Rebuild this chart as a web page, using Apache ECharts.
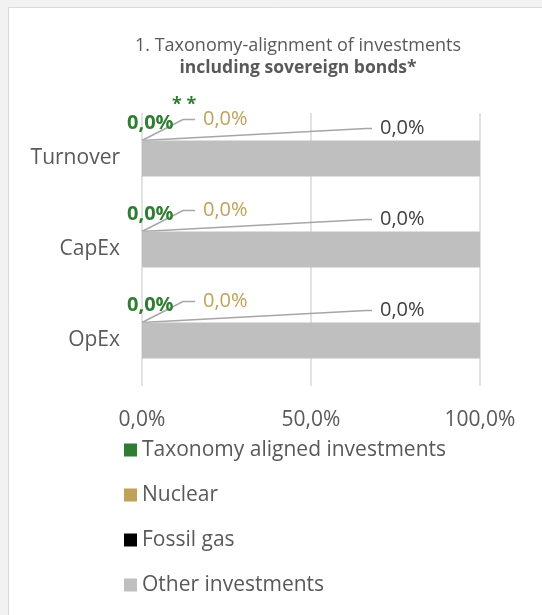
<!DOCTYPE html>
<html>
<head>
<meta charset="utf-8">
<script src="https://cdn.jsdelivr.net/npm/echarts@6/dist/echarts.min.js"></script>
<style>
html, body { margin: 0; padding: 0; background: #f2f2f2; }
#main { width: 542px; height: 615px; }
</style>
</head>
<body>
<div id="main"></div>
<script>
// categories (top to bottom)
var cats = ['Turnover', 'CapEx', 'OpEx'];
// shares in %
var aligned = [0, 0, 0];
var nuclear = [0, 0, 0];
var fossil = [0, 0, 0];
var other = [100, 100, 100];
var xTicks = [0, 50, 100];
var seriesNames = ['Taxonomy aligned investments', 'Nuclear', 'Fossil gas', 'Other investments'];

var FONT = '"Open Sans", sans-serif';
var TXT = '#595959';

function pct(v) {
	return v.toFixed(1).replace('.', ',') + '%';
}

var myChart = echarts.init(document.getElementById('main'));

var option = {
	backgroundColor : '#f2f2f2',
	animation : false,
	textStyle : { fontFamily : FONT },
	graphic : [
		{
			type : 'rect',
			z : -10,
			shape : { x : 8.5, y : 7.5, width : 540, height : 620 },
			style : { fill : '#ffffff', stroke : '#d9d9d9', lineWidth : 1 }
		}
	],
	title : {
		text : '1. Taxonomy-alignment of investments',
		subtext : 'including sovereign bonds*',
		left : 293,
		textAlign : 'center',
		top : 32,
		itemGap : 4,
		textStyle : { fontFamily : FONT, fontSize : 18, fontWeight : 'normal', color : TXT },
		subtextStyle : { fontFamily : FONT, fontSize : 17.5, fontWeight : 'bold', color : TXT }
	},
	legend : {
		orient : 'vertical',
		left : 124,
		top : 438,
		padding : 0,
		itemWidth : 13,
		itemHeight : 13,
		itemGap : 21,
		icon : 'rect',
		selectedMode : false,
		textStyle : { fontFamily : FONT, fontSize : 21, color : TXT, lineHeight : 24 },
		data : seriesNames
	},
	grid : {
		left : 142,
		right : 62,
		top : 113,
		height : 273
	},
	xAxis : {
		type : 'value',
		min : xTicks[0],
		max : xTicks[xTicks.length - 1],
		interval : xTicks[1] - xTicks[0],
		axisLine : { show : false },
		axisTick : { show : false },
		splitLine : { lineStyle : { color : '#d9d9d9', width : 1.5 } },
		axisLabel : {
			fontFamily : FONT,
			fontSize : 21,
			color : TXT,
			margin : 24,
			formatter : function (v) { return pct(v); }
		}
	},
	yAxis : {
		type : 'category',
		inverse : true,
		data : cats,
		axisLine : { show : false },
		axisTick : { show : false },
		axisLabel : { fontFamily : FONT, fontSize : 21, color : TXT, margin : 22, padding : [8, 0, 0, 0] }
	},
	series : [
		{
			name : seriesNames[0],
			type : 'bar',
			stack : 'total',
			barWidth : 36,
			itemStyle : { color : '#2e7d32' },
			label : {
				show : true,
				fontFamily : FONT,
				fontSize : 20,
				fontWeight : 'bold',
				color : '#2e7d32',
				formatter : function (p) {
					if (p.dataIndex === 0) {
						return '{s|* *}\n{v|' + pct(p.value) + '}';
					}
					return '{v|' + pct(p.value) + '}';
				},
				rich : {
					s : { fontFamily : FONT, fontSize : 18, color : '#2e7d32', padding : [0, 0, 0, 45] },
					v : { fontFamily : FONT, fontSize : 20, fontWeight : 'bold', color : '#2e7d32' }
				}
			},
			labelLayout : function (p) {
				return { x : p.rect.x - 15, y : p.rect.y - 7, align : 'left', verticalAlign : 'bottom' };
			},
			data : aligned
		},
		{
			name : seriesNames[1],
			type : 'bar',
			stack : 'total',
			itemStyle : { color : '#bfa25a' },
			label : {
				show : true,
				fontFamily : FONT,
				fontSize : 20,
				color : '#bfa25a',
				formatter : function (p) { return '{g| }{v|' + pct(p.value) + '}'; },
				rich : {
					g : { width : 8 },
					v : { fontFamily : FONT, fontSize : 20, color : '#bfa25a' }
				}
			},
			labelLine : { show : true, length2 : 12, lineStyle : { color : '#a6a6a6', width : 1.5 } },
			labelLayout : function (p) {
				return { x : p.rect.x + 53, y : p.rect.y - 21, align : 'left', verticalAlign : 'middle' };
			},
			data : nuclear
		},
		{
			name : seriesNames[2],
			type : 'bar',
			stack : 'total',
			itemStyle : { color : '#000000' },
			label : {
				show : true,
				fontFamily : FONT,
				fontSize : 20,
				color : '#404040',
				formatter : function (p) { return '{g| }{v|' + pct(p.value) + '}'; },
				rich : {
					g : { width : 8 },
					v : { fontFamily : FONT, fontSize : 20, color : '#404040' }
				}
			},
			labelLine : { show : true, length2 : 6, lineStyle : { color : '#a6a6a6', width : 1.5 } },
			labelLayout : function (p) {
				return { x : p.rect.x + 230, y : p.rect.y - 12, align : 'left', verticalAlign : 'middle' };
			},
			data : fossil
		},
		{
			name : seriesNames[3],
			type : 'bar',
			stack : 'total',
			itemStyle : { color : '#bfbfbf' },
			data : other
		}
	]
};
myChart.setOption(option);
</script>
</body>
</html>
